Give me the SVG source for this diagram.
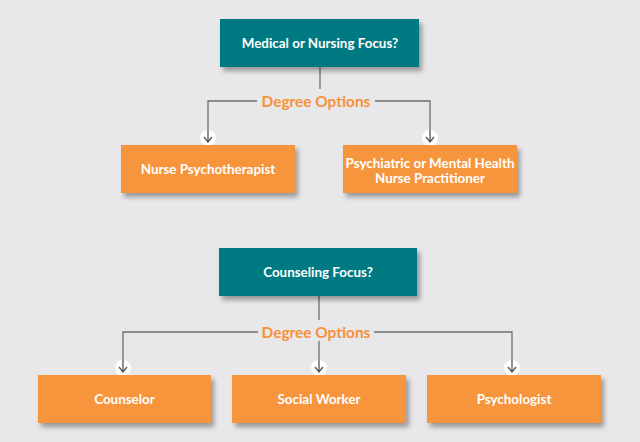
<svg xmlns="http://www.w3.org/2000/svg" width="640" height="442" viewBox="0 0 640 442">
<defs>
<filter id="sh" x="-10%" y="-20%" width="130%" height="160%">
<feDropShadow dx="3" dy="4" stdDeviation="2.5" flood-color="#000" flood-opacity="0.35"/>
</filter>
<g id="arr">
<circle cx="0" cy="0" r="8" fill="#fff"/>
<path d="M0,-8 V4 M-4,-1 L0,4 L4,-1" fill="none" stroke="#555" stroke-width="1.3"/>
</g>
</defs>
<style>
.teal{fill:#057a82;filter:url(#sh)}
.org{fill:#f7953c;filter:url(#sh)}
.t{font-family:Lato,"Open Sans","Liberation Sans",sans-serif;font-weight:bold;font-size:13.4px;fill:#fff;text-anchor:middle}
.d{font-family:Lato,"Open Sans","Liberation Sans",sans-serif;font-weight:bold;font-size:15.4px;fill:#f7913a;text-anchor:middle}
.ln{fill:none;stroke:#6e6e6e;stroke-width:1.3}
</style>
<rect width="640" height="442" fill="#e8e8ea"/>
<g id="connectors">
<path class="ln" d="M320,67 V89"/>
<path class="ln" d="M257,101 H208 V132"/>
<path class="ln" d="M375,101 H430 V132"/>
<path class="ln" d="M319,296 V320"/>
<path class="ln" d="M258,332 H123 V362"/>
<path class="ln" d="M374,332 H512 V362"/>
<path class="ln" d="M319,341 V362"/>
<text class="d" x="316" y="106.5">Degree Options</text>
<text class="d" x="316" y="337.5">Degree Options</text>
<use href="#arr" x="208" y="138"/>
<use href="#arr" x="430" y="138"/>
<use href="#arr" x="123" y="368"/>
<use href="#arr" x="319" y="368"/>
<use href="#arr" x="512" y="368"/>
</g>
<g id="medical">
<rect class="teal" x="220" y="19" width="199" height="48"/>
<text class="t" x="320" y="48">Medical or Nursing Focus?</text>
</g>
<g id="nurse-psychotherapist">
<rect class="org" x="121" y="145" width="174" height="48"/>
<text class="t" x="208" y="173.5">Nurse Psychotherapist</text>
</g>
<g id="pmhnp">
<rect class="org" x="343" y="145" width="174" height="48"/>
<text class="t" x="430" y="167.5">Psychiatric or Mental Health</text>
<text class="t" x="430" y="182.5">Nurse Practitioner</text>
</g>
<g id="counseling">
<rect class="teal" x="219" y="248" width="198" height="48"/>
<text class="t" x="318" y="277">Counseling Focus?</text>
</g>
<g id="counselor">
<rect class="org" x="38" y="375" width="173" height="48"/>
<text class="t" x="124.5" y="403.5">Counselor</text>
</g>
<g id="social-worker">
<rect class="org" x="232" y="375" width="174" height="48"/>
<text class="t" x="319" y="403.5">Social Worker</text>
</g>
<g id="psychologist">
<rect class="org" x="427" y="375" width="174" height="48"/>
<text class="t" x="514" y="403.5">Psychologist</text>
</g>
</svg>
